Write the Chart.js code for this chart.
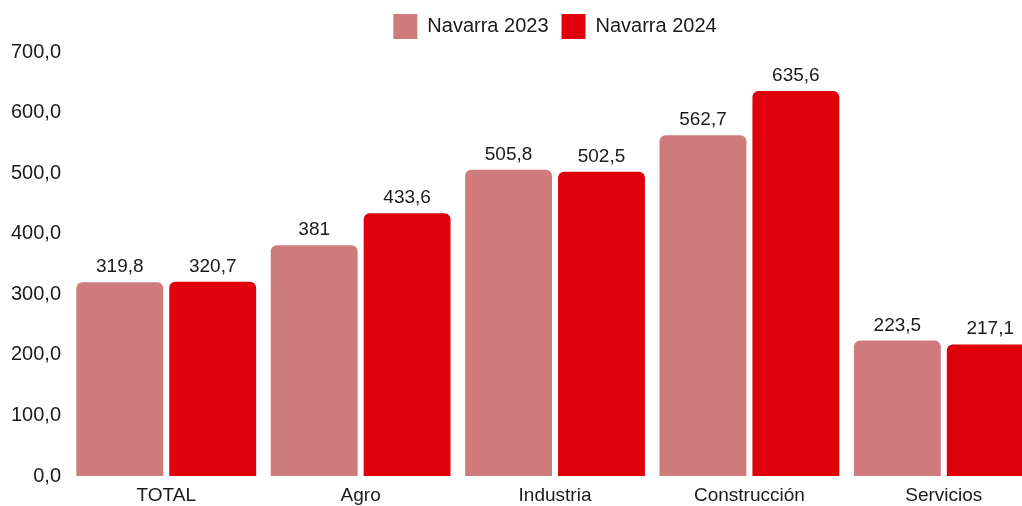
<!DOCTYPE html>
<html lang="es">
<head>
  <meta charset="UTF-8">
  <title>Navarra 2023 vs 2024</title>
  <script src="https://cdn.jsdelivr.net/npm/chart.js"></script>
  <style>
    html, body { margin: 0; padding: 0; background: #fff; overflow: hidden; }
    #wrap { width: 1045px; height: 516px; }
  </style>
</head>
<body>
  <div id="wrap">
    <canvas id="barChart" width="1045" height="516"></canvas>
  </div>

  <script>
    const categories = ['TOTAL', 'Agro', 'Industria', 'Construcción', 'Servicios'];
    const values2023 = [319.8, 381, 505.8, 562.7, 223.5];
    const values2024 = [320.7, 433.6, 502.5, 635.6, 217.1];
    const labels2023 = ['319,8', '381', '505,8', '562,7', '223,5'];
    const labels2024 = ['320,7', '433,6', '502,5', '635,6', '217,1'];

    const fontFamily = '"Liberation Sans", Arial, Helvetica, sans-serif';

    // draws the value above each bar
    const valueLabels = {
      id: 'valueLabels',
      afterDatasetsDraw(chart) {
        const ctx = chart.ctx;
        ctx.save();
        ctx.font = '19px ' + fontFamily;
        ctx.fillStyle = '#1a1a1a';
        ctx.textAlign = 'center';
        ctx.textBaseline = 'alphabetic';
        chart.data.datasets.forEach((ds, i) => {
          chart.getDatasetMeta(i).data.forEach((bar, j) => {
            ctx.fillText(ds.valueText[j], bar.x, bar.y - 10);
          });
        });
        ctx.restore();
      }
    };

    // a bit more room under the legend
    const legendGap = {
      id: 'legendGap',
      beforeLayout(chart) {
        const legend = chart.legend;
        if (!legend || legend._gapPatched) return;
        const fit = legend.fit;
        legend.fit = function () {
          fit.call(this);
          this.height += 3;
        };
        legend._gapPatched = true;
      }
    };

    const ctx = document.getElementById('barChart').getContext('2d');
    new Chart(ctx, {
      type: 'bar',
      data: {
        labels: categories,
        datasets: [
          {
            label: 'Navarra 2023',
            data: values2023,
            valueText: labels2023,
            backgroundColor: '#cf7a7b',
            borderRadius: 6,
            borderSkipped: 'start'
          },
          {
            label: 'Navarra 2024',
            data: values2024,
            valueText: labels2024,
            backgroundColor: '#df000b',
            borderRadius: 6,
            borderSkipped: 'start'
          }
        ]
      },
      options: {
        responsive: false,
        animation: false,
        layout: { padding: { left: 3, right: 4, top: 1, bottom: 0 } },
        datasets: {
          bar: { categoryPercentage: 0.956, barPercentage: 0.935 }
        },
        plugins: {
          legend: {
            position: 'top',
            fullSize: false,
            labels: {
              boxWidth: 24,
              boxHeight: 25,
              padding: 13,
              color: '#1a1a1a',
              font: { size: 20, family: fontFamily }
            }
          },
          tooltip: { enabled: false }
        },
        scales: {
          x: {
            grid: { display: false, drawTicks: false },
            border: { display: false },
            ticks: {
              color: '#1a1a1a',
              padding: 8.6,
              font: { size: 19, family: fontFamily }
            }
          },
          y: {
            min: 0,
            max: 700,
            grid: { display: false, drawTicks: false },
            border: { display: false },
            ticks: {
              stepSize: 100,
              padding: 8,
              color: '#1a1a1a',
              font: { size: 20, family: fontFamily },
              callback: v => v.toFixed(1).replace('.', ',')
            }
          }
        }
      },
      plugins: [valueLabels, legendGap]
    });
  </script>
</body>
</html>
